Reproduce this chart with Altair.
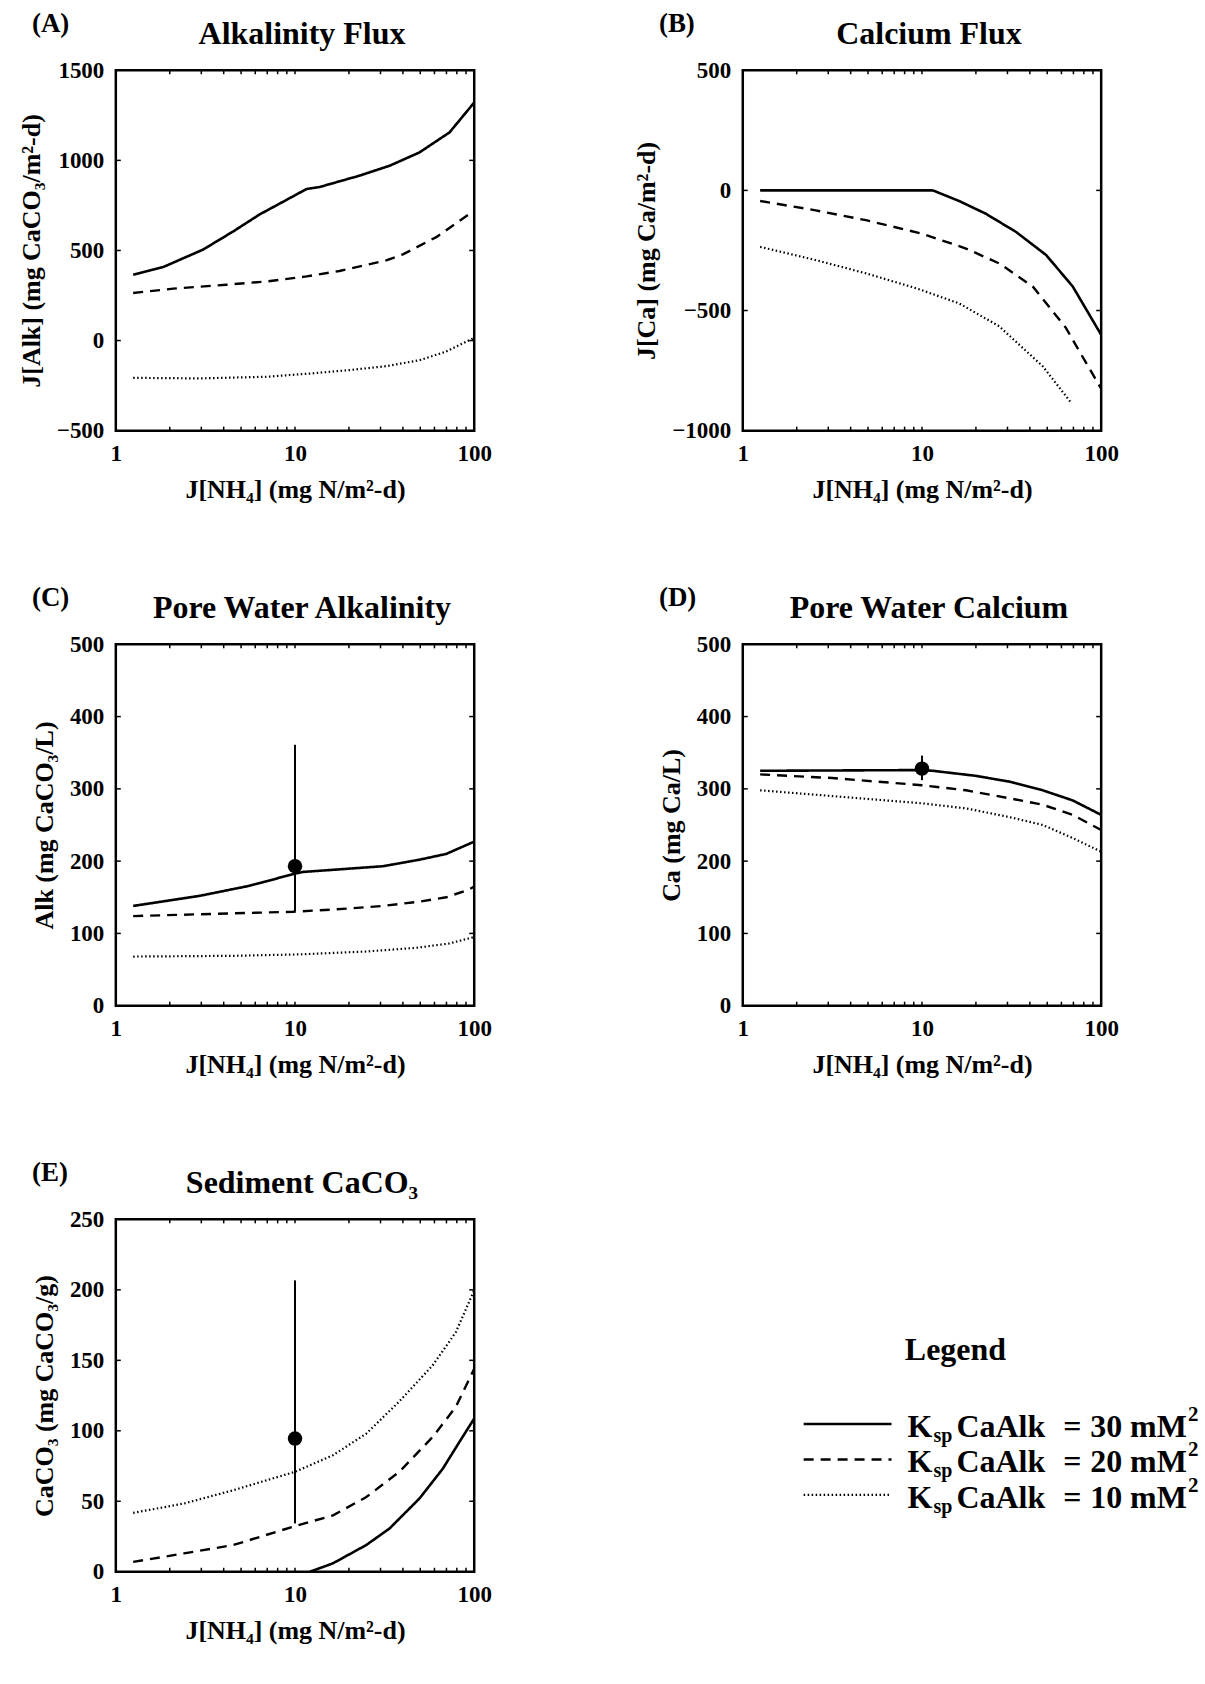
import altair as alt
import pandas as pd

# ---------------- data ----------------
SERIES = ["30", "20", "10"]          # Ksp CaAlk (mM^2)

# (A) Alkalinity flux
A_solid_x = [1.25, 1.84, 3.07, 4.51, 6.35, 8.57, 11.6, 13.7, 22.9, 33.7, 49.5, 72.8, 100]
A_solid_y = [365, 408, 505, 605, 700, 770, 841, 852, 915, 970, 1044, 1155, 1321]
A_dash_x = [1.25, 2.09, 4.14, 6.92, 11.6, 17.7, 32.3, 40, 61.4, 94, 100]
A_dash_y = [264, 288, 310, 328, 356, 386, 445, 478, 574, 703, 718]
A_dot_x = [1.25, 2.94, 6.92, 12.1, 20.1, 32.3, 49.5, 69, 90, 100]
A_dot_y = [-207, -210, -201, -183, -164, -142, -109, -63, -7, 15]

# (B) Calcium flux
B_solid_x = [1.25, 11.5, 16.1, 22.7, 33.5, 49.3, 69.4, 100]
B_solid_y = [0, 0, -44, -97, -173, -269, -400, -601]
B_dash_x = [1.25, 2.55, 4.86, 10, 17.6, 27, 41.5, 63.7, 75.6, 100]
B_dash_y = [-44, -83, -124, -180, -242, -304, -400, -573, -670, -825]
B_dot_x = [1.25, 2.55, 4.86, 9.25, 16.1, 27, 47.2, 68]
B_dot_y = [-235, -290, -345, -407, -470, -566, -732, -884]

# (C) Pore water alkalinity
C_solid_x = [1.25, 2.94, 5.59, 9.74, 11, 16.3, 31, 49.5, 69.8, 100]
C_solid_y = [138, 152, 166, 182, 185, 188, 193, 202, 210, 227]
C_dash_x = [1.25, 2.94, 9.74, 16.3, 31, 49.5, 69.8, 94, 100]
C_dash_y = [124, 126.5, 130, 133, 138, 144, 150, 161, 165]
C_dot_x = [1.25, 4.5, 10.6, 25, 47, 72.5, 100]
C_dot_y = [68, 69, 71, 75, 80, 86, 95]
C_obs = {"x": [10], "y": [193], "ylo": [131], "yhi": [361]}

# (D) Pore water calcium
D_solid_x = [1.25, 10, 11.5, 20, 30.7, 47.2, 69.4, 100]
D_solid_y = [325, 326, 325, 318, 310, 298, 284, 264]
D_dash_x = [1.25, 3.16, 10, 17.6, 30.7, 47.2, 69.4, 100]
D_dash_y = [320, 315, 305, 298, 287, 278, 264, 243]
D_dot_x = [1.25, 3.16, 10, 17.6, 30.7, 47.2, 69.4, 100]
D_dot_y = [298, 290, 280, 273, 261, 250, 232, 213]
D_obs = {"x": [10], "y": [328], "ylo": [312], "yhi": [346]}

# (E) Sediment CaCO3
E_solid_x = [12.1, 16.3, 25, 33.7, 49.5, 66.7, 82.6, 100]
E_solid_y = [0, 6, 19, 30.7, 52, 73, 92, 108.7]
E_dash_x = [1.25, 2.4, 4.54, 10, 16.3, 25, 38.3, 58.7, 79, 100]
E_dash_y = [7, 13, 19, 32.4, 40, 53, 71, 95.7, 117, 144]
E_dot_x = [1.25, 2.4, 4.54, 10, 16.3, 25, 38.3, 58.7, 79, 100]
E_dot_y = [41.8, 48.4, 57.9, 70.9, 82.7, 98, 121, 146.5, 170, 199.7]
E_obs = {"x": [10], "y": [94.5], "ylo": [34.3], "yhi": [206.7]}

X_LABELS = [1, 10, 100]
X_MINOR = [2, 3, 4, 5, 6, 7, 8, 9, 10, 20, 30, 40, 50, 60, 70, 80, 90]

# ---------------- styling ----------------
FONT = "Liberation Serif"
DASH = [[1, 0], [10, 7], [1.5, 2.5]]
WIDTH = [2.6, 2.2, 1.6]
X_TITLE = "J[NH₄] (mg N/m²-d)"

dash_scale = alt.Scale(domain=SERIES, range=DASH)
width_scale = alt.Scale(domain=SERIES, range=WIDTH)


def make_df(parts):
    rows = []
    for name, xs, ys in parts:
        for x, y in zip(xs, ys):
            rows.append({"x": x, "y": y, "series": name})
    return pd.DataFrame(rows)


def panel(df, ydom, yvals, title, label, ytitle, w, h, obs=None):
    xs = alt.Scale(type="log", domain=[1, 100], nice=False)
    ys = alt.Scale(domain=ydom, nice=False, zero=False)
    common = dict(ticks=False, tickSize=0, domain=False, grid=False,
                  labelFont=FONT, labelFontSize=23, labelFontWeight="bold",
                  labelColor="black", labelPadding=12, labelOverlap=False,
                  titleFont=FONT, titleFontSize=26, titleFontWeight="bold",
                  titleColor="black")
    xaxis = alt.Axis(values=X_LABELS, format="d", labelFlush=False,
                     title=X_TITLE, titlePadding=11, **common)
    yaxis = alt.Axis(values=yvals, format="d", title=ytitle, titlePadding=12,
                     **common)
    X = alt.X("x:Q", scale=xs, axis=xaxis)
    Y = alt.Y("y:Q", scale=ys, axis=yaxis)

    lines = alt.Chart(df).mark_line(color="black", clip=True).encode(
        x=X, y=Y,
        strokeDash=alt.StrokeDash("series:N", scale=dash_scale, legend=None),
        strokeWidth=alt.StrokeWidth("series:N", scale=width_scale, legend=None),
    )
    xt = pd.DataFrame({"x": X_MINOR})
    yt = pd.DataFrame({"y": yvals[1:-1]})
    tick_top = alt.Chart(xt).mark_rule(color="black", strokeWidth=1.5).encode(
        x=X, y=alt.value(0), y2=alt.value(4))
    tick_bot = alt.Chart(xt).mark_rule(color="black", strokeWidth=1.5).encode(
        x=X, y=alt.value(h), y2=alt.value(h - 4))
    tick_l = alt.Chart(yt).mark_rule(color="black", strokeWidth=1.5).encode(
        y=Y, x=alt.value(0), x2=alt.value(5))
    tick_r = alt.Chart(yt).mark_rule(color="black", strokeWidth=1.5).encode(
        y=Y, x=alt.value(w), x2=alt.value(w - 5))
    lab = alt.Chart(pd.DataFrame({"t": [label]})).mark_text(
        font=FONT, fontSize=27, fontWeight="bold", align="left",
        baseline="middle", color="black").encode(
        text="t:N", x=alt.value(-84), y=alt.value(-46))
    ttl = alt.Chart(pd.DataFrame({"t": [title]})).mark_text(
        font=FONT, fontSize=32, fontWeight="bold", align="center",
        baseline="alphabetic", color="black").encode(
        text="t:N", x=alt.value(w / 2 + 7), y=alt.value(-26))
    layers = [lines, tick_top, tick_bot, tick_l, tick_r, lab, ttl]
    if obs is not None:
        od = pd.DataFrame(obs)
        err = alt.Chart(od).mark_rule(color="black", strokeWidth=2).encode(
            x=X, y=alt.Y("ylo:Q", scale=ys, axis=yaxis), y2="yhi:Q")
        dot = alt.Chart(od).mark_circle(color="black", size=210, opacity=1).encode(
            x=X, y=Y)
        layers += [err, dot]
    return alt.layer(*layers).properties(width=w, height=h)


dfA = make_df([("30", A_solid_x, A_solid_y), ("20", A_dash_x, A_dash_y), ("10", A_dot_x, A_dot_y)])
dfB = make_df([("30", B_solid_x, B_solid_y), ("20", B_dash_x, B_dash_y), ("10", B_dot_x, B_dot_y)])
dfC = make_df([("30", C_solid_x, C_solid_y), ("20", C_dash_x, C_dash_y), ("10", C_dot_x, C_dot_y)])
dfD = make_df([("30", D_solid_x, D_solid_y), ("20", D_dash_x, D_dash_y), ("10", D_dot_x, D_dot_y)])
dfE = make_df([("30", E_solid_x, E_solid_y), ("20", E_dash_x, E_dash_y), ("10", E_dot_x, E_dot_y)])

W = 359
pA = panel(dfA, [-500, 1500], [-500, 0, 500, 1000, 1500], "Alkalinity Flux", "(A)",
           "J[Alk] (mg CaCO₃/m²-d)", W, 361)
pB = panel(dfB, [-1000, 500], [-1000, -500, 0, 500], "Calcium Flux", "(B)",
           "J[Ca] (mg Ca/m²-d)", W, 361)
pC = panel(dfC, [0, 500], [0, 100, 200, 300, 400, 500], "Pore Water Alkalinity", "(C)",
           "Alk (mg CaCO₃/L)", W, 362, C_obs)
pD = panel(dfD, [0, 500], [0, 100, 200, 300, 400, 500], "Pore Water Calcium", "(D)",
           "Ca (mg Ca/L)", W, 362, D_obs)
pE = panel(dfE, [0, 250], [0, 50, 100, 150, 200, 250], "Sediment CaCO₃", "(E)",
           "CaCO₃ (mg CaCO₃/g)", W, 353, E_obs)

# ---------------- legend panel ----------------
LX = 61  # legend content starts this far right of the column edge
leg = pd.DataFrame({"series": SERIES})
LY = alt.Y("series:N", scale=alt.Scale(type="point", domain=SERIES, range=[205, 276], padding=0),
           axis=None)
leg_lines = alt.Chart(leg).mark_rule(color="black").encode(
    y=LY, x=alt.value(LX), x2=alt.value(LX + 88),
    strokeDash=alt.StrokeDash("series:N", scale=dash_scale, legend=None),
    strokeWidth=alt.StrokeWidth("series:N", scale=width_scale, legend=None))
leg_title = alt.Chart(pd.DataFrame({"t": ["Legend"]})).mark_text(
    font=FONT, fontSize=32, fontWeight="bold", align="center", baseline="middle",
    color="black").encode(text="t:N", x=alt.value(LX + 152), y=alt.value(131))


def piece(text, xoff, size, dy):
    return alt.Chart(leg).mark_text(
        font=FONT, fontSize=size, fontWeight="bold", align="left", baseline="middle",
        color="black", dy=dy, text=text).encode(y=LY, x=alt.value(LX + xoff))


leg_num = alt.Chart(leg).mark_text(
    font=FONT, fontSize=32, fontWeight="bold", align="left", baseline="middle",
    color="black", dy=3).encode(y=LY, x=alt.value(LX + 287), text="series:N")

legend = alt.layer(
    leg_lines, leg_title,
    piece("K", 104, 32, 3), piece("sp", 130, 20, 12), piece("CaAlk", 153, 32, 3),
    piece("=", 260, 32, 3), leg_num, piece("mM", 327, 32, 3), piece("2", 385, 21, -9),
).properties(width=LX + 395, height=353,
             view=alt.ViewBackground(stroke="transparent"))

chart = alt.concat(
    pA, pB, pC, pD, pE, legend,
    columns=2, spacing=alt.RowColnumber(row=214, column=269),
    bounds="flush", align="each",
).properties(
    padding={"left": 17, "top": 7, "right": 5, "bottom": 5},
    background="white",
).configure_view(stroke="black", strokeWidth=2.5)

chart.save("out.html", embed_options={"renderer": "svg", "actions": False})
